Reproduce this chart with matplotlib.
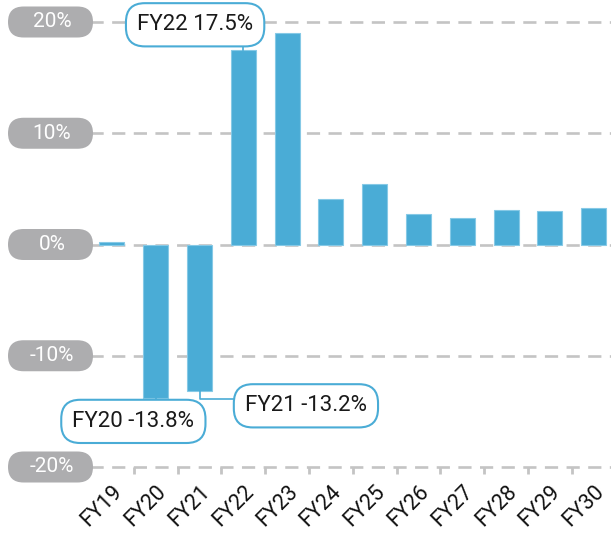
import matplotlib.pyplot as plt
from matplotlib.patches import FancyBboxPatch
import numpy as np

plt.rcParams['font.family'] = ['Roboto', 'DejaVu Sans']

# Дані
years = ['FY19', 'FY20', 'FY21', 'FY22', 'FY23', 'FY24', 'FY25',
         'FY26', 'FY27', 'FY28', 'FY29', 'FY30']
growth = [0.2, -13.8, -13.2, 17.5, 19.0, 4.1, 5.4, 2.7, 2.4, 3.1, 3.0, 3.3]
y_ticks = [20, 10, 0, -10, -20]
y_tick_labels = ['20%', '10%', '0%', '-10%', '-20%']

# Підписи-виноски: (індекс року, x тексту, y тексту)
callouts = [(3, 1.9, 19.75), (1, 0.49, -15.9), (2, 4.43, -14.5)]

BLUE = '#4aacd6'
GREY_BOX = '#adadaf'
GRID = '#c4c4c4'

fig = plt.figure(figsize=(6.11, 5.33), dpi=100)
ax = fig.add_axes([90 / 611, 66 / 533, 525.6 / 611, 445 / 533])

x = np.arange(len(years))
ax.bar(x, growth, width=0.57, color=BLUE, edgecolor='#86c9e6',
       linewidth=0.8, zorder=3)

ax.set_xlim(-0.5, len(years) - 0.5)
ax.set_ylim(-20, 20)

for v in y_ticks:
    ax.axhline(v, color=GRID, linewidth=1.9, linestyle=(0, (5, 3.2)),
               zorder=1, clip_on=False)

for s in ax.spines.values():
    s.set_visible(False)

ax.set_yticks([])
ax.set_xticks(x)
ax.set_xticklabels(years, rotation=45, ha='right', rotation_mode='anchor',
                   fontsize=15.5, color='#111111')
ax.tick_params(axis='x', which='major', length=0, pad=10)
ax.set_xticks(np.arange(-0.5, len(years), 1), minor=True)
ax.tick_params(axis='x', which='minor', length=5, width=2, color=GRID,
               direction='out')

# Сірі мітки осі Y у вигляді "пігулок"
for v, lab in zip(y_ticks, y_tick_labels):
    yc = ax.transData.transform((0, v))[1] / fig.dpi
    box = FancyBboxPatch((0.08, yc - 0.155), 0.85, 0.31,
                         boxstyle='round,pad=0,rounding_size=0.155',
                         transform=fig.dpi_scale_trans,
                         facecolor=GREY_BOX, edgecolor='none', zorder=5)
    fig.add_artist(box)
    fig.text(0.52, yc, lab, transform=fig.dpi_scale_trans, color='white',
             fontsize=15, ha='center', va='center', zorder=6)

# Виноски
for i, tx, ty in callouts:
    val = growth[i]
    label = f'{years[i]} {val:.1f}%'
    if i == 2:
        yk = val - 0.65
        ax.plot([x[i], x[i], tx], [val, yk, yk], color=BLUE, lw=1.2,
                zorder=4, clip_on=False)
    else:
        ax.plot([x[i], x[i]], [val, ty], color=BLUE, lw=1.2, zorder=4,
                clip_on=False)
    ax.text(tx, ty, label, fontsize=16, color='#1a1a1a', ha='center',
            va='center', zorder=6,
            bbox=dict(boxstyle='round,pad=0.5,rounding_size=0.85',
                      facecolor='white', edgecolor=BLUE, linewidth=1.5))

fig.savefig('out.png', dpi=100)
